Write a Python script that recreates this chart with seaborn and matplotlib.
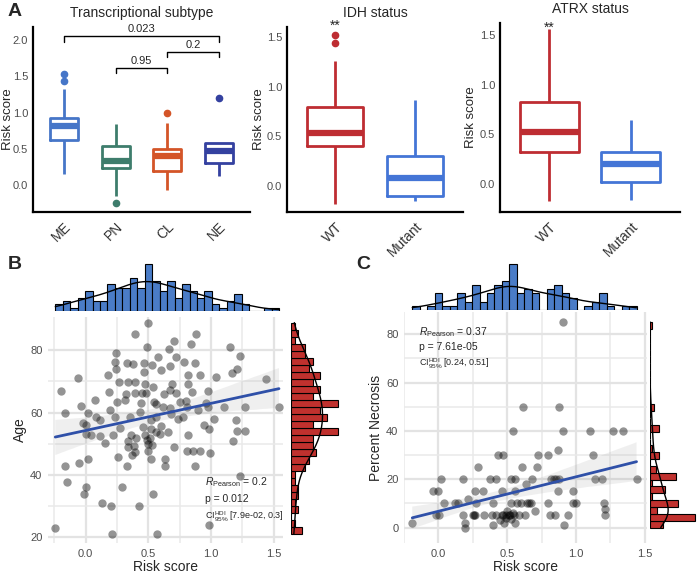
import numpy as np
import pandas as pd
import seaborn as sns
import matplotlib.pyplot as plt
from matplotlib.collections import PolyCollection

sns.set_style("white")
plt.rcParams['font.family'] = ['Liberation Sans', 'DejaVu Sans']
plt.rcParams['mathtext.fontset'] = 'custom'
plt.rcParams['mathtext.rm'] = 'Liberation Sans'
plt.rcParams['mathtext.it'] = 'Liberation Sans:italic'

W, H = 697, 579

subtypes = ["ME", "PN", "CL", "NE"]
subtype_colors = ["#4676C8", "#3E7D6C", "#D45528", "#3441A0"]
me_scores = [0.16, 0.40, 0.55, 0.62, 0.70, 0.76, 0.82, 0.86, 0.90, 0.93, 1.33, 1.43, 1.53]
pn_scores = [-0.25, -0.15, 0.10, 0.235, 0.27, 0.30, 0.33, 0.40, 0.48, 0.545, 0.62, 0.72, 0.84]
cl_scores = [-0.06, 0.05, 0.12, 0.19, 0.28, 0.35, 0.40, 0.43, 0.46, 0.495, 0.65, 0.85, 0.995]
ne_scores = [0.125, 0.18, 0.25, 0.30, 0.36, 0.42, 0.47, 0.50, 0.54, 0.575, 0.575, 0.575, 1.20]
subtype_tests = [("ME", "NE", "0.023", 2.05), ("CL", "NE", "0.2", 1.83), ("PN", "CL", "0.95", 1.61)]

status_levels = ["WT", "Mutant"]
status_colors = ["#BE2D32", "#4475D6"]
idh_wt = [-0.18, 0.15, 0.30, 0.40, 0.45, 0.50, 0.53, 0.60, 0.70, 0.80, 1.26, 1.435, 1.515]
idh_mut = [-0.15, -0.13, -0.12, -0.10, -0.03, 0.03, 0.08, 0.15, 0.22, 0.30, 0.45, 0.65, 0.87]
atrx_wt = [-0.17, 0.10, 0.22, 0.32, 0.40, 0.47, 0.525, 0.60, 0.70, 0.82, 1.00, 1.25, 1.555]
atrx_mut = [-0.16, -0.10, -0.05, 0.02, 0.08, 0.15, 0.20, 0.24, 0.28, 0.32, 0.42, 0.52, 0.64]

# ---------------- panel B: risk score vs age
b_risk = [0.500, 0.394, 0.883, 0.840, 0.702, 0.489, 0.665, 1.152, 0.245, 1.234,
          0.872, 0.463, 0.529, 0.231, 0.332, 0.670, 0.604, 0.785, 1.207, 0.239,
          1.165, 0.910, 0.465, 0.816, 0.178, -0.064, 1.441, 0.340, 0.263, 0.394,
          0.473, 0.689, 0.816, 0.540, 0.184, -0.197, 0.396, 0.447, 0.851, 0.973,
          0.670, 0.324, 0.072, 0.250, 0.439, 0.543, 0.755, 0.957, 0.564, 0.617,
          -0.040, 0.811, 0.976, 1.106, 1.269, 1.543, -0.168, 0.021, 0.085, 0.231,
          0.354, 0.681, 0.777, 0.899, 1.202, 0.564, 0.734, 1.021, 0.601, 0.005,
          0.277, 0.005, 0.040, 0.117, 0.218, 0.359, 0.473, 0.590, 0.519, 0.814,
          0.947, 0.981, 1.207, 1.271, 1.176, 0.654, 0.335, 0.402, 0.489, 0.497,
          0.527, 0.340, 0.388, 0.707, 0.157, 0.396, 0.372, 0.255, 0.495, 0.806,
          0.856, 0.910, 0.995, 0.524, 0.630, 0.330, 0.630, 0.872, -0.168, -0.056,
          0.021, -0.146, 0.000, 0.293, -0.011, 0.540, 0.130, 0.202, 0.426, 1.229,
          0.984, -0.242, 0.207, 0.572, 0.484, 0.516, 0.564, 0.457, 0.628, 0.670,
          0.803, 0.311, 0.191, 0.112, -0.021, 0.431, 0.723, 0.521, 1.043, 0.378,
          0.577, 0.723]
b_age = [88.8, 85.0, 85.0, 82.0, 82.9, 81.1, 80.5, 81.0, 79.0, 78.0,
         76.0, 76.0, 75.2, 76.2, 76.0, 75.0, 73.6, 76.1, 74.0, 73.8,
         72.8, 72.0, 73.0, 72.0, 72.0, 70.9, 70.8, 69.9, 69.9, 69.8,
         69.2, 69.0, 69.0, 68.1, 66.7, 66.9, 66.3, 66.3, 66.7, 66.9,
         67.2, 66.0, 64.0, 63.3, 62.9, 63.5, 63.3, 63.2, 62.7, 61.9,
         62.1, 61.9, 61.7, 61.9, 61.9, 61.9, 60.0, 60.0, 58.7, 58.7,
         58.7, 59.5, 58.7, 60.8, 57.6, 58.7, 58.0, 58.0, 55.8, 55.9,
         55.2, 53.0, 52.8, 52.6, 52.8, 52.8, 52.8, 53.0, 54.6, 52.9,
         55.9, 54.8, 54.0, 54.0, 51.0, 53.8, 51.0, 51.8, 51.2, 49.9,
         49.7, 48.9, 49.2, 48.9, 50.2, 47.3, 46.4, 45.9, 47.6, 47.8,
         47.8, 47.8, 46.9, 45.0, 45.0, 42.9, 42.9, 42.9, 42.9, 43.8,
         45.0, 37.9, 36.0, 36.1, 33.9, 33.9, 30.9, 30.0, 30.0, 39.8,
         24.0, 22.9, 21.1, 21.1, 66.1, 51.8, 53.9, 55.5, 65.9, 61.3,
         63.8, 64.0, 60.8, 57.6, 56.6, 60.3, 66.1, 57.6, 71.5, 75.7,
         77.9, 77.9]

# ---------------- panel C: risk score vs percent necrosis
c_risk = [0.909, 0.618, 0.877, 0.540, 0.904, 1.100, 1.270, 1.340, 0.870, 0.430,
          0.470, 0.727, 0.800, 1.120, 0.290, 0.610, 0.717, 0.017, 0.180, 0.378,
          0.420, 0.530, 0.560, 0.680, 0.817, 0.855, 0.880, 1.140, 1.190, 1.440,
          0.640, -0.036, 0.000, 0.264, 0.327, 0.460, 0.560, 0.868, 0.980, 0.044,
          0.120, 0.140, 0.215, 0.276, 0.400, 0.526, 0.570, 0.647, 0.676, 0.800,
          0.980, 1.000, 1.200, 1.210, 0.705, -0.017, 0.005, 0.180, 0.250, 0.264,
          0.330, 0.390, 0.420, 0.460, 0.494, 0.520, 0.550, 0.586, 0.632, 0.810,
          0.850, 0.940, 1.210, -0.190, 0.190, 0.395, 0.480, 0.560, 0.913, 0.196,
          0.494, 0.530, 0.470, 0.510, 0.500, 0.540, 0.450, 0.260, 0.600, 0.660,
          0.840]
c_necrosis = [85, 50, 50, 40, 40, 40, 40, 40, 32, 30,
              30, 30, 30, 30, 25, 25, 25, 20, 20, 20,
              20, 20, 20, 20, 20, 20, 20, 20, 20, 20,
              18, 15, 15, 15, 15, 15, 15, 15, 15, 10,
              10, 10, 12, 10, 10, 10, 10, 10, 10, 10,
              10, 10, 10, 7.7, 7, 5, 5, 5, 5, 5,
              5, 5, 5, 5, 5, 5, 5, 5, 5, 5,
              5, 5, 5, 2, 2, 1, 2, 2, 1, 0,
              4, 3.5, 5, 5, 7, 6, 3, 5, 10, 10,
              20]

b_stats = [r"$\mathit{R}_{\mathrm{Pearson}}$ = 0.2", "p = 0.012",
           r"CI$^{\mathrm{HDI}}_{\mathrm{95\%}}$ [7.9e-02, 0.3]"]
c_stats = [r"$\mathit{R}_{\mathrm{Pearson}}$ = 0.37", "p = 7.61e-05",
           r"CI$^{\mathrm{HDI}}_{\mathrm{95\%}}$ [0.24, 0.51]"]

fig = plt.figure(figsize=(W / 100, H / 100), dpi=100)


def add_ax(left, top, right, bottom):
    return fig.add_axes([left / W, 1 - bottom / H, (right - left) / W, (bottom - top) / H])


def draw_box(ax, groups, values, colors, width, ylim, yticks, title, label_x):
    df = pd.DataFrame({"group": np.repeat(groups, [len(v) for v in values]),
                       "score": np.concatenate(values)})
    sns.boxplot(data=df, x="group", y="score", hue="group", order=groups, hue_order=groups,
                palette=colors, saturation=1, fill=False, width=width, linewidth=2.0,
                showcaps=False, medianprops=dict(linewidth=4.5),
                flierprops=dict(marker="o", markersize=4.5), legend=False, ax=ax)
    for ln in ax.lines:
        if ln.get_marker() not in ("None", "", None):
            ln.set_markerfacecolor(ln.get_markeredgecolor())
    ax.set_xlim(-0.6, len(groups) - 0.4)
    ax.set_ylim(*ylim)
    ax.set_yticks(yticks)
    ax.set_yticklabels([f"{t:.1f}" for t in yticks])
    ax.set_xticks(range(len(groups)))
    ax.set_xticklabels(groups, rotation=45, ha="right", rotation_mode="anchor", fontsize=10,
                       color="#333333")
    sns.despine(ax=ax)
    for s in ("left", "bottom"):
        ax.spines[s].set_linewidth(1.6)
        ax.spines[s].set_color("black")
    ax.tick_params(axis="y", length=2.5, width=2, color="black", labelsize=8, labelcolor="#4D4D4D", pad=1)
    ax.tick_params(axis="x", length=2.5, width=2, color="black", pad=3)
    ax.set_xlabel("")
    ax.set_ylabel("Risk score", fontsize=9.5)
    ax.yaxis.set_label_coords(label_x, 0.5)
    ax.set_title(title, fontsize=10, pad=7)


def draw_joint(ax, ax_top, ax_right, x, y, xlim, ylim, yticks, yminor, ylabel,
               hist_top, hist_right, stats, stats_pos):
    ax.set_axisbelow(True)
    sns.regplot(x=x, y=y, ax=ax, ci=95, seed=1, truncate=True,
                scatter_kws=dict(s=36, color="black", alpha=0.42, linewidths=0),
                line_kws=dict(color="#2F50A8", lw=2))
    for coll in ax.collections:
        if isinstance(coll, PolyCollection):
            coll.set_facecolor((0.6, 0.6, 0.6, 0.45))
            coll.set_edgecolor("none")
    ax.set_xlim(*xlim)
    ax.set_ylim(*ylim)
    ax.set_xticks([0.0, 0.5, 1.0, 1.5])
    ax.set_xticklabels(["0.0", "0.5", "1.0", "1.5"])
    ax.set_xticks([-0.25, 0.25, 0.75, 1.25], minor=True)
    ax.set_yticks(yticks)
    ax.set_yticks(yminor, minor=True)
    ax.grid(which="major", color="#E3E3E3", lw=1.6)
    ax.grid(which="minor", color="#E9E9E9", lw=1.1)
    for s in ax.spines.values():
        s.set_visible(False)
    ax.tick_params(which="major", length=2, width=3, color="#222222", labelsize=8,
                   labelcolor="#4D4D4D", pad=2)
    ax.tick_params(which="minor", length=0)
    ax.set_xlabel("Risk score", fontsize=10, labelpad=1)
    ax.set_ylabel(ylabel, fontsize=10, labelpad=2)
    tx, ty, dy = stats_pos
    ax.text(tx, ty, stats[0], fontsize=7.5, va="center")
    ax.text(tx, ty - dy, stats[1], fontsize=7.5, va="center")
    ax.text(tx, ty - 2.1 * dy, stats[2], fontsize=6.5, va="center")

    sns.histplot(x=x, bins=30, kde=True, ax=ax_top, color=hist_top, alpha=1,
                 edgecolor="black", linewidth=0.8)
    ax_top.lines[0].set_color("black")
    ax_top.lines[0].set_linewidth(1)
    ax_top.set_xlim(*xlim)
    ax_top.set_ylim(0, None)
    ax_top.axis("off")

    sns.histplot(y=y, bins=30, kde=True, ax=ax_right, color=hist_right, alpha=1,
                 edgecolor="black", linewidth=0.8)
    ax_right.lines[0].set_color("black")
    ax_right.lines[0].set_linewidth(1)
    ax_right.set_ylim(*ylim)
    ax_right.set_xlim(0, None)
    ax_right.axis("off")


# ---- A
ax1 = add_ax(33, 27, 250, 212)
draw_box(ax1, subtypes, [me_scores, pn_scores, cl_scores, ne_scores], subtype_colors,
         0.54, (-0.37, 2.18), [0.0, 0.5, 1.0, 1.5, 2.0], "Transcriptional subtype", -0.088)
for g1, g2, lab, yb in subtype_tests:
    x1, x2 = subtypes.index(g1), subtypes.index(g2)
    ax1.plot([x1, x1, x2, x2], [yb - 0.07, yb, yb, yb - 0.07], color="black", lw=1)
    ax1.text((x1 + x2) / 2, yb + 0.03, lab, ha="center", va="bottom", fontsize=8)

ax2 = add_ax(287, 27, 463, 212)
draw_box(ax2, status_levels, [idh_wt, idh_mut], status_colors, 0.70,
         (-0.26, 1.60), [0.0, 0.5, 1.0, 1.5], "IDH status", -0.125)
ax2.text(0, 1.54, "**", ha="center", va="bottom", fontsize=10)

ax3 = add_ax(500, 23, 680, 212)
draw_box(ax3, status_levels, [atrx_wt, atrx_mut], status_colors, 0.72,
         (-0.285, 1.62), [0.0, 0.5, 1.0, 1.5], "ATRX status", -0.128)
ax3.text(0, 1.50, "**", ha="center", va="bottom", fontsize=10)

# ---- B
axb = add_ax(48, 317, 283, 543)
axb_top = add_ax(48, 262, 283, 311)
axb_right = add_ax(291, 317, 340, 543)
draw_joint(axb, axb_top, axb_right, np.array(b_risk), np.array(b_age), (-0.30, 1.575),
           (18.2, 90.6), [20, 40, 60, 80], [30, 50, 70], "Age",
           "#4A7CC7", "#C0312E", b_stats, (0.95, 37.6, 5.2))

# ---- C
axc = add_ax(404, 312, 647, 543)
axc_top = add_ax(404, 262, 647, 310)
axc_right = add_ax(650, 312, 697, 543)
draw_joint(axc, axc_top, axc_right, np.array(c_risk), np.array(c_necrosis), (-0.25, 1.516),
           (-6.4, 89.2), [0, 20, 40, 60, 80], [10, 30, 50, 70], "Percent Necrosis",
           "#4A7CC7", "#C0312E", c_stats, (-0.14, 81, 6.4))

fig.text(8 / W, 1 - 12 / H, "A", fontsize=14, fontweight="bold", va="center")
fig.text(8 / W, 1 - 265 / H, "B", fontsize=14, fontweight="bold", va="center")
fig.text(356 / W, 1 - 265 / H, "C", fontsize=14, fontweight="bold", va="center")

fig.savefig("out.png", dpi=100)
